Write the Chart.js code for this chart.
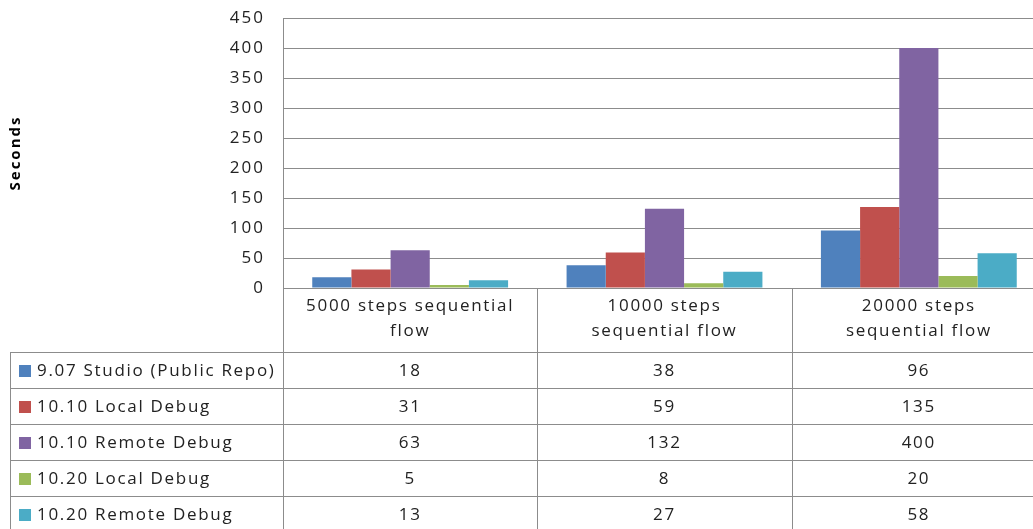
<!DOCTYPE html>
<html>
<head>
<meta charset="utf-8">
<script src="https://cdn.jsdelivr.net/npm/chart.js@4.4.0/dist/chart.umd.min.js"></script>
<style>
    html, body { margin: 0; padding: 0; overflow: hidden; background: #fff; }
    #contenido { position: relative; width: 1047px; height: 529px; }
</style>
</head>
<body>
<div id="contenido"><canvas id="diagramaTiempos" width="1047" height="529"></canvas></div>
<script>
// datos
var categorias = [["5000 steps sequential", "flow"], ["10000 steps", "sequential flow"], ["20000 steps", "sequential flow"]];
var series = ["9.07 Studio (Public Repo)", "10.10 Local Debug", "10.10 Remote Debug", "10.20 Local Debug", "10.20 Remote Debug"];
var studio907 = [18, 38, 96];
var local1010 = [31, 59, 135];
var remote1010 = [63, 132, 400];
var local1020 = [5, 8, 20];
var remote1020 = [13, 27, 58];
var colores = ['#4F81BD', '#C0504D', '#8064A2', '#9BBB59', '#4BACC6'];

var valores = [studio907, local1010, remote1010, local1020, remote1020];
var colorLineas = '#8c8c8c';
var colorTexto = '#222222';

Chart.defaults.font.family = "'Open Sans', sans-serif";

// el texto de excel sale muy espaciado, lo imitamos con letterSpacing
var espaciado = {
    id: 'espaciado',
    beforeUpdate: function (chart) { chart.ctx.letterSpacing = '2px'; },
    beforeDraw: function (chart) { chart.ctx.letterSpacing = '2px'; }
};

// dibuja la tabla de datos debajo del eje x
var tablaDatos = {
    id: 'tablaDatos',
    afterDraw: function (chart) {
        let ctx = chart.ctx;
        let area = chart.chartArea;
        let anchoCol = (area.right - area.left) / categorias.length;
        let altoCabecera = 64;
        let altoFila = 36;
        let izq = 10;
        let arriba = area.bottom;
        let abajo = arriba + altoCabecera + altoFila * series.length;

        ctx.save();
        ctx.strokeStyle = colorLineas;
        ctx.lineWidth = 1;

        function linea(x1, y1, x2, y2) {
            ctx.beginPath();
            ctx.moveTo(x1, y1);
            ctx.lineTo(x2, y2);
            ctx.stroke();
        }

        let yCab = Math.round(arriba + altoCabecera) + 0.5;
        linea(izq, yCab, area.right, yCab);
        for (let i = 1; i <= series.length; i++) {
            let y = Math.round(arriba + altoCabecera + altoFila * i) + 0.5;
            linea(izq, y, area.right, y);
        }
        for (let c = 0; c <= categorias.length; c++) {
            let x = Math.round(area.left + anchoCol * c) + 0.5;
            linea(x, arriba, x, abajo);
        }
        linea(izq + 0.5, yCab, izq + 0.5, abajo);

        ctx.fillStyle = colorTexto;
        ctx.font = "17px 'Open Sans'";
        ctx.letterSpacing = '1.7px';
        ctx.textAlign = 'center';
        ctx.textBaseline = 'middle';

        // cabecera con las categorias
        for (let c = 0; c < categorias.length; c++) {
            let xc = chart.scales.x.getPixelForValue(c);
            let lineas = categorias[c];
            for (let l = 0; l < lineas.length; l++) {
                ctx.fillText(lineas[l], xc, arriba + 18 + l * 25);
            }
        }

        // filas con valores y leyenda
        for (let i = 0; i < series.length; i++) {
            let yc = arriba + altoCabecera + altoFila * i + altoFila / 2 + 1;
            ctx.fillStyle = colores[i];
            ctx.fillRect(19, Math.round(yc - 6), 12, 12);
            ctx.fillStyle = colorTexto;
            ctx.textAlign = 'left';
            ctx.fillText(series[i], 37, yc);
            ctx.textAlign = 'center';
            for (let c = 0; c < categorias.length; c++) {
                let xc = chart.scales.x.getPixelForValue(c);
                ctx.fillText(String(valores[i][c]), xc, yc);
            }
        }
        ctx.restore();
    }
};

var datasets = [];
for (let i = 0; i < series.length; i++) {
    datasets.push({
        label: series[i],
        data: valores[i],
        backgroundColor: colores[i],
        borderWidth: 0
    });
}

let canvas = document.getElementById('diagramaTiempos');
let diagrama = new Chart(canvas, {
    type: 'bar',
    data: {
        labels: categorias.map(function (c) { return c.join(' '); }),
        datasets: datasets
    },
    options: {
        responsive: false,
        animation: false,
        devicePixelRatio: 1,
        layout: { padding: { top: 18, right: 1, left: 0, bottom: 0 } },
        plugins: {
            legend: { display: false },
            tooltip: { enabled: false }
        },
        datasets: {
            bar: { categoryPercentage: 0.77, barPercentage: 1.0 }
        },
        scales: {
            x: {
                ticks: { display: false },
                grid: { display: false },
                border: { display: true, color: colorLineas },
                afterFit: function (scale) { scale.height = 241; }
            },
            y: {
                min: 0,
                max: 450,
                ticks: { stepSize: 50, color: colorTexto, font: { size: 17 }, padding: 18 },
                grid: { color: colorLineas, drawTicks: false, tickLength: 0 },
                border: { display: true, color: colorLineas },
                title: {
                    display: true,
                    text: 'Seconds',
                    color: '#000',
                    font: { size: 15, weight: 'bold' },
                    padding: { top: 7, bottom: 0 }
                },
                afterFit: function (scale) {
                    scale.width = 283;
                    scale.paddingTop = 0;
                    scale.paddingBottom = 0;
                }
            }
        }
    },
    plugins: [espaciado, tablaDatos]
});
</script>
</body>
</html>
